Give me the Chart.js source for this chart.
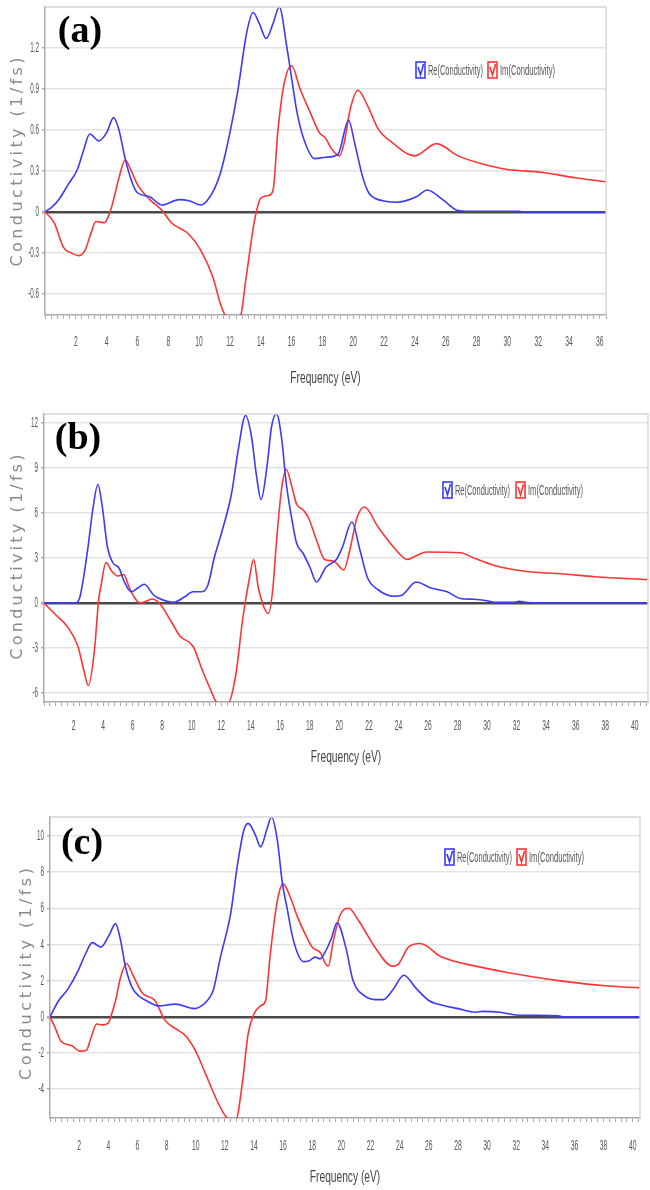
<!DOCTYPE html>
<html lang="en">
<head>
<meta charset="UTF-8">
<title>Conductivity · panels a-c</title>
<script src="https://cdn.jsdelivr.net/npm/chart.js"></script>
<style>
  body { margin: 0; background: #fff; width: 650px; height: 1190px; position: relative; overflow: hidden; }
  canvas { position: absolute; left: 0; }
</style>
</head>
<body>
<canvas id="chartA" width="650" height="392" style="top:0px"></canvas>
<canvas id="chartB" width="650" height="395" style="top:392px"></canvas>
<canvas id="chartC" width="650" height="403" style="top:787px"></canvas>
<script>
// ---- values (x in eV, y in 1/fs) ----
const seriesLabels = ['Re(Conductivity)', 'Im(Conductivity)'];

// (a)
const aReX = [0, 0.5, 0.9, 1.5, 2.1, 2.5, 2.9, 3.5, 4.0, 4.45, 4.8, 5.2, 5.7, 6.0, 6.8, 7.6, 8.7, 9.4, 10.1, 10.5, 11.0, 11.4, 12.0, 12.5, 13.1, 13.5, 13.9, 14.35, 14.8, 15.2, 15.7, 16.0, 16.35, 16.8, 17.5, 18.2, 19.0, 19.7, 20.1, 20.6, 21.0, 21.4, 22.0, 22.8, 24.1, 24.8, 25.8, 26.8, 27.5, 30.7, 31.0, 36.4];
const aRe  = [0, 0.04, 0.09, 0.2, 0.31, 0.45, 0.57, 0.52, 0.58, 0.69, 0.6, 0.39, 0.2, 0.14, 0.11, 0.05, 0.09, 0.08, 0.05, 0.08, 0.17, 0.29, 0.58, 0.88, 1.32, 1.46, 1.38, 1.27, 1.38, 1.5, 1.2, 0.98, 0.73, 0.53, 0.39, 0.4, 0.42, 0.67, 0.5, 0.26, 0.14, 0.1, 0.08, 0.07, 0.11, 0.16, 0.09, 0.01, 0.005, 0.005, 0, 0];
const aImX = [0, 0.6, 1.2, 1.7, 2.2, 2.6, 3.0, 3.3, 3.85, 4.25, 4.45, 4.8, 5.2, 5.6, 6.0, 6.8, 7.6, 8.2, 9.3, 10.1, 10.9, 11.4, 11.8, 12.2, 12.65, 13.05, 13.6, 14.0, 14.5, 14.8, 15.1, 15.5, 16.0, 16.55, 17.2, 17.8, 18.2, 18.6, 19.1, 19.4, 19.8, 20.3, 21.0, 21.6, 22.5, 24.0, 25.4, 26.8, 28.4, 30.0, 32.2, 34.4, 36.4];
const aIm  = [0, -0.08, -0.26, -0.3, -0.32, -0.28, -0.15, -0.07, -0.08, 0.01, 0.09, 0.25, 0.38, 0.3, 0.2, 0.09, 0.01, -0.08, -0.16, -0.28, -0.48, -0.68, -0.78, -0.8, -0.78, -0.48, -0.06, 0.1, 0.12, 0.16, 0.58, 0.93, 1.07, 0.9, 0.73, 0.58, 0.54, 0.46, 0.41, 0.5, 0.75, 0.89, 0.76, 0.61, 0.51, 0.41, 0.5, 0.41, 0.35, 0.31, 0.29, 0.25, 0.22];
const aYTicks = [-0.6, -0.3, 0, 0.3, 0.6, 0.9, 1.2];
const aXTicks = [2, 4, 6, 8, 10, 12, 14, 16, 18, 20, 22, 24, 26, 28, 30, 32, 34, 36];

// (b)
const bReX = [0, 2.1, 2.4, 2.95, 3.3, 3.65, 3.95, 4.3, 4.65, 5.1, 5.4, 5.9, 6.35, 6.8, 7.4, 7.8, 8.4, 8.8, 9.5, 10.1, 10.7, 11.1, 11.55, 12.0, 12.7, 13.15, 13.65, 14.05, 14.4, 14.7, 15.1, 15.4, 15.75, 16.1, 16.4, 16.8, 17.1, 17.55, 18.0, 18.45, 19.1, 19.8, 20.2, 20.85, 21.4, 21.9, 22.6, 23.7, 24.2, 25.2, 26.2, 27.3, 28.2, 29.1, 30.0, 30.5, 31.8, 32.2, 32.6, 33.4, 41];
const bRe  = [0, 0, 0.3, 3.5, 6.2, 7.9, 6.4, 3.7, 2.7, 2.3, 1.5, 0.75, 1.0, 1.25, 0.55, 0.3, 0.1, 0.05, 0.4, 0.75, 0.75, 1.2, 3.1, 4.6, 7.3, 10.2, 12.5, 11.1, 8.4, 6.9, 9.1, 11.7, 12.6, 10.9, 8.0, 5.5, 4.0, 3.3, 2.4, 1.4, 2.4, 2.9, 3.7, 5.4, 3.5, 1.7, 0.9, 0.45, 0.5, 1.4, 1.0, 0.75, 0.3, 0.25, 0.15, 0.05, 0.05, 0.12, 0.05, 0, 0];
const bImX = [0, 0.7, 1.6, 2.3, 2.7, 3.0, 3.4, 3.7, 3.85, 4.2, 4.6, 5.0, 5.4, 5.75, 6.1, 6.5, 7.0, 7.3, 7.8, 8.65, 9.2, 10.1, 10.65, 11.2, 11.8, 12.45, 13.0, 13.45, 13.9, 14.2, 14.5, 14.9, 15.2, 15.5, 15.75, 16.1, 16.4, 16.8, 17.1, 17.55, 17.9, 18.45, 19.0, 19.6, 20.3, 20.7, 21.2, 21.7, 22.6, 23.7, 24.6, 25.1, 25.9, 28.2, 29.1, 30.5, 32.7, 35.0, 37.3, 41];
const bIm  = [0, -0.7, -1.6, -2.9, -4.5, -5.5, -3.3, 0.2, 1.1, 2.7, 2.1, 1.8, 1.9, 1.1, 0.4, 0, 0.15, 0.27, 0, -1.3, -2.2, -2.9, -4.3, -5.6, -6.7, -6.7, -4.7, -1.1, 1.6, 2.9, 1.1, -0.3, -0.7, 1.0, 4.2, 7.7, 8.9, 7.7, 6.6, 6.2, 5.7, 4.2, 2.9, 2.8, 2.2, 3.5, 5.7, 6.4, 5.1, 3.7, 2.9, 3.1, 3.4, 3.35, 3.0, 2.5, 2.1, 1.95, 1.75, 1.55];
const bYTicks = [-6, -3, 0, 3, 6, 9, 12];
const bXTicks = [2, 4, 6, 8, 10, 12, 14, 16, 18, 20, 22, 24, 26, 28, 30, 32, 34, 36, 38, 40];

// (c)
const cReX = [0, 0.6, 1.2, 1.9, 2.45, 2.9, 3.5, 4.05, 4.5, 4.85, 5.2, 5.65, 6.1, 6.6, 7.45, 8.6, 9.9, 10.4, 10.8, 11.2, 11.7, 12.4, 12.85, 13.3, 13.6, 14.1, 14.45, 14.9, 15.2, 15.6, 15.95, 16.3, 16.6, 17.0, 17.4, 17.8, 18.2, 18.55, 18.9, 19.3, 19.7, 20.3, 20.8, 21.6, 22.3, 22.9, 23.5, 24.3, 25.1, 26.0, 26.6, 28.0, 29.2, 29.7, 30.9, 32.0, 34.9, 35.2, 40.5];
const cRe  = [0, 0.9, 1.5, 2.5, 3.5, 4.1, 3.85, 4.5, 5.15, 4.2, 2.7, 1.6, 1.15, 0.9, 0.6, 0.7, 0.45, 0.6, 0.9, 1.45, 3.3, 5.7, 8.3, 10.3, 10.7, 10.05, 9.4, 10.4, 11.05, 9.8, 7.4, 5.9, 4.6, 3.5, 3.05, 3.1, 3.3, 3.2, 3.6, 4.3, 5.2, 3.85, 2.0, 1.15, 0.95, 0.95, 1.45, 2.3, 1.6, 0.9, 0.7, 0.45, 0.25, 0.3, 0.25, 0.1, 0.05, 0, 0];
const cImX = [0, 0.35, 0.75, 1.5, 2.05, 2.5, 2.8, 3.2, 3.6, 4.0, 4.25, 4.5, 4.85, 5.25, 5.75, 6.35, 7.2, 7.9, 8.6, 9.3, 10.0, 10.7, 11.5, 12.05, 12.4, 12.75, 13.2, 13.6, 14.0, 14.45, 14.8, 15.1, 15.6, 16.0, 16.5, 17.0, 17.5, 18.0, 18.6, 18.9, 19.1, 19.45, 19.9, 20.5, 21.2, 22.3, 23.5, 23.9, 24.6, 25.4, 26.9, 29.2, 31.4, 34.9, 38.3, 40.5];
const cIm  = [0, -0.6, -1.35, -1.6, -1.9, -1.85, -1.2, -0.4, -0.45, -0.35, 0.2, 0.9, 2.2, 2.95, 2.2, 1.3, 0.9, -0.2, -0.65, -1.05, -1.9, -3.2, -4.7, -5.5, -5.7, -5.7, -3.7, -0.95, 0.15, 0.6, 0.9, 3.3, 6.4, 7.35, 6.6, 5.5, 4.6, 3.85, 3.5, 2.95, 2.8, 4.2, 5.6, 6.0, 5.3, 3.85, 2.8, 2.9, 3.85, 4.05, 3.3, 2.8, 2.45, 2.0, 1.7, 1.6];
const cYTicks = [-4, -2, 0, 2, 4, 6, 8, 10];
const cXTicks = bXTicks;

// ---- styling ----
const BLUE = 'rgb(58,58,255)';
const RED = 'rgb(255,52,52)';
const SANS = '"Liberation Sans", Arial, sans-serif';
const panels = {};   // per-canvas settings, read by the decor plugin

function pts(xs, ys) {
    return xs.map((x, i) => ({ x: x, y: ys[i] }));
}

// minor tick every 0.4 eV, labels only on the even ones
function minorTicks(max) {
    const out = [];
    for (let k = 0; k * 0.4 <= max + 1e-9; k++) out.push(Math.round(k * 4) / 10);
    return out;
}

// the original uses a very condensed face: squeeze text horizontally
function squeezed(ctx, text, x, y, factor) {
    ctx.fillText(text, x, y, ctx.measureText(text).width * factor);
}

// spread a string along a fixed length (the y title is letter-spaced in the original)
function spacedText(ctx, text, cx, cy, len) {
    ctx.save();
    ctx.translate(cx, cy);
    ctx.rotate(-Math.PI / 2);
    const chars = [...text];
    const widths = chars.map(c => ctx.measureText(c).width);
    const total = widths.reduce((s, w) => s + w, 0);
    const gap = (len - total) / (chars.length - 1);
    let x = -len / 2;
    chars.forEach((c, i) => { ctx.fillText(c, x, 0); x += widths[i] + gap; });
    ctx.restore();
}

const decor = {
    id: 'decor',
    afterDraw(chart) {
        const p = panels[chart.canvas.id];
        const o = p.decor;
        const ctx = chart.ctx, a = chart.chartArea;
        const xs = chart.scales.x, ys = chart.scales.y;
        ctx.save();
        // top + right frame
        ctx.strokeStyle = '#d6d6d6';
        ctx.lineWidth = 1.5;
        ctx.beginPath();
        ctx.moveTo(a.left, a.top); ctx.lineTo(a.right, a.top); ctx.lineTo(a.right, a.bottom);
        ctx.stroke();

        // tick labels, squeezed like the original
        ctx.fillStyle = '#555';
        ctx.font = '15px ' + SANS;
        ctx.textBaseline = 'middle';
        ctx.textAlign = 'center';
        p.xLabels.forEach(v => squeezed(ctx, String(v), xs.getPixelForValue(v), a.bottom + o.xLabOff, 0.45));
        ctx.textAlign = 'right';
        p.yTicks.forEach(v => squeezed(ctx, String(v), a.left - 6, ys.getPixelForValue(v), 0.42));

        // x title
        ctx.fillStyle = '#444';
        ctx.font = '17px ' + SANS;
        ctx.textAlign = 'center';
        squeezed(ctx, 'Frequency (eV)', (a.left + a.right) / 2, a.bottom + o.xTitleOff, 0.6);

        // y title
        ctx.fillStyle = '#8a8a8a';
        ctx.font = '16px "DejaVu Sans", sans-serif';
        ctx.textAlign = 'left';
        spacedText(ctx, 'Conductivity (1/fs)', o.yTitleX, o.yTitleY, o.yTitleLen);

        // legend with checkbox marks
        let x = o.legX;
        chart.data.datasets.forEach(ds => {
            ctx.strokeStyle = ds.borderColor;
            ctx.lineWidth = 1.6;
            ctx.strokeRect(x, o.legY - 8, 9, 16);
            ctx.beginPath();
            ctx.moveTo(x + 2, o.legY - 3);
            ctx.lineTo(x + 4.5, o.legY + 5);
            ctx.lineTo(x + 7.5, o.legY - 6);
            ctx.stroke();
            ctx.fillStyle = '#555';
            ctx.font = '15px ' + SANS;
            ctx.textAlign = 'left';
            ctx.fillText(ds.label, x + 12, o.legY + 1, 55);
            x += o.legStep;
        });

        // panel tag
        ctx.fillStyle = '#000';
        ctx.font = 'bold 38px "Liberation Serif", "Times New Roman", serif';
        ctx.textAlign = 'center';
        ctx.fillText(o.tag, o.tagX, o.tagY);
        ctx.restore();
    }
};

function makeChart(id, p) {
    panels[id] = p;
    return new Chart(document.getElementById(id), {
        type: 'line',
        data: {
            datasets: [
                { label: seriesLabels[0], data: pts(p.reX, p.re), borderColor: BLUE, backgroundColor: BLUE },
                { label: seriesLabels[1], data: pts(p.imX, p.im), borderColor: RED, backgroundColor: RED }
            ]
        },
        options: {
            responsive: false,
            animation: false,
            layout: { padding: { top: p.top, right: p.right, left: 0, bottom: 0 } },
            elements: {
                point: { radius: 0 },
                line: { borderWidth: 1.6, cubicInterpolationMode: 'monotone' }
            },
            plugins: {
                legend: { display: false },
                tooltip: { enabled: false }
            },
            scales: {
                x: {
                    type: 'linear', min: 0, max: p.xMax,
                    afterBuildTicks: s => { s.ticks = minorTicks(p.xMax).map(v => ({ value: v })); },
                    afterFit: s => { s.height = p.xH; s.paddingLeft = 0; s.paddingRight = 0; },
                    ticks: { autoSkip: false, maxRotation: 0, callback: () => '' },
                    grid: { drawOnChartArea: false, tickLength: 4, tickColor: '#aaa' },
                    border: { color: '#aaa', width: 1.5 }
                },
                y: {
                    min: p.yMin, max: p.yMax,
                    afterBuildTicks: s => { s.ticks = p.yTicks.map(v => ({ value: v })); },
                    afterFit: s => { s.width = p.left; s.paddingTop = 0; s.paddingBottom = 0; },
                    ticks: { callback: () => '' },
                    grid: {
                        color: c => (c.tick && c.tick.value === 0) ? '#4a4a4a' : '#e3e3e3',
                        lineWidth: c => (c.tick && c.tick.value === 0) ? 2.5 : 1.5,
                        tickLength: 3, tickColor: '#aaa'
                    },
                    border: { color: '#aaa', width: 1.5 }
                }
            }
        },
        plugins: [decor]
    });
}

makeChart('chartA', {
    reX: aReX, re: aRe, imX: aImX, im: aIm,
    xMax: 36.4, xLabels: aXTicks, yMin: -0.755, yMax: 1.5, yTicks: aYTicks,
    top: 7, right: 44, left: 45, xH: 77,
    decor: { tag: '(a)', tagX: 80, tagY: 32, legX: 416, legY: 70, legStep: 72,
             xLabOff: 27, xTitleOff: 63,
             yTitleX: 18, yTitleY: 162, yTitleLen: 209 }
});

makeChart('chartB', {
    reX: bReX, re: bRe, imX: bImX, im: bIm,
    xMax: 40.9, xLabels: bXTicks, yMin: -6.6, yMax: 12.6, yTicks: bYTicks,
    top: 22, right: 2, left: 44, xH: 85,
    decor: { tag: '(b)', tagX: 78, tagY: 47, legX: 443, legY: 98, legStep: 73,
             xLabOff: 24, xTitleOff: 55,
             yTitleX: 18, yTitleY: 165, yTitleLen: 205 }
});

makeChart('chartC', {
    reX: cReX, re: cRe, imX: cImX, im: cIm,
    xMax: 40.5, xLabels: cXTicks, yMin: -5.6, yMax: 11.05, yTicks: cYTicks,
    top: 30, right: 10, left: 50, xH: 72,
    decor: { tag: '(c)', tagX: 82, tagY: 57, legX: 445, legY: 70, legStep: 72,
             xLabOff: 28, xTitleOff: 59,
             yTitleX: 27, yTitleY: 187, yTitleLen: 212 }
});
</script>
</body>
</html>
